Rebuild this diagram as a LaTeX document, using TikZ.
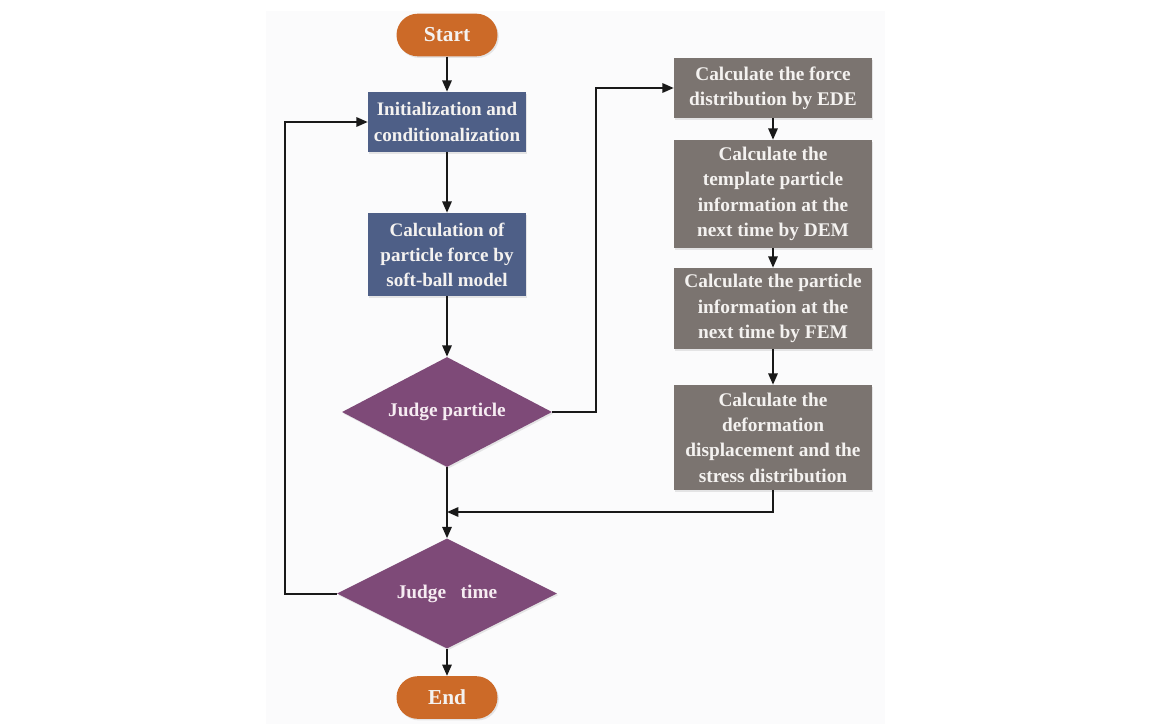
\documentclass[tikz,border=0pt]{standalone}
\usepackage{fontspec}
\setmainfont{Liberation Serif}
\usetikzlibrary{arrows.meta,shapes.geometric,shadows}
\definecolor{bgc}{HTML}{FBFBFC}
\definecolor{bluebox}{HTML}{4E5F87}
\definecolor{graybox}{HTML}{7B7470}
\definecolor{purp}{HTML}{7E4A78}
\definecolor{orng}{HTML}{CC6A28}
\definecolor{ptext}{HTML}{F6ECF2}
\definecolor{ltext}{HTML}{F4F2F0}
\tikzset{
  shade/.style={drop shadow={opacity=0.18,shadow xshift=1pt,shadow yshift=-1.2pt}},
  term/.style={shape=rectangle,rounded corners=16pt,fill=orng,text=ltext,minimum width=75.75pt,minimum height=32pt,inner sep=0pt,font=\fontsize{16}{19}\selectfont\bfseries,shade},
  bbox/.style={shape=rectangle,fill=bluebox,text=ltext,minimum width=118.5pt,inner sep=2pt,align=center,font=\fontsize{14.3}{18.8}\selectfont\bfseries,shade},
  gbox/.style={shape=rectangle,fill=graybox,text=ltext,minimum width=148.5pt,inner sep=2pt,align=center,font=\fontsize{14.5}{19}\selectfont\bfseries,shade},
  dia/.style={shape=diamond,shape aspect=1.95,fill=purp,text=ptext,inner sep=0pt,minimum height=82.5pt,font=\fontsize{14.5}{18}\selectfont\bfseries,shade},
  arr/.style={draw=black!90,line width=1.5pt,-{Triangle[length=8.5pt,width=7pt]}},
  ln/.style={draw=black!90,line width=1.5pt}
}
\begin{document}
\begin{tikzpicture}[x=0.75pt,y=-0.75pt]
\useasboundingbox (0,0) rectangle (1166,724);
\fill[bgc] (266,11) rectangle (885,724);
% left column
\node[term] (start) at (447,35) {Start};
\node[bbox,minimum height=45pt] (init) at (447,122) {Initialization and\\conditionalization};
\node[bbox,minimum height=62.25pt] (calc) at (447,254.5) {Calculation of\\particle force by\\soft-ball model};
\node[dia,minimum width=157.5pt] (jp) at (447,412) {Judge particle};
\node[dia,minimum width=165pt] (jt) at (447,593.5) {Judge~~~time};
\node[term] (end) at (447,697.5) {End};
% right column
\node[gbox,minimum height=45pt] (b1) at (773,88) {Calculate the force\\distribution by EDE};
\node[gbox,minimum height=81pt] (b2) at (773,194) {Calculate the\\template particle\\information at the\\next time by DEM};
\node[gbox,minimum height=60.75pt] (b3) at (773,308.5) {Calculate the particle\\information at the\\next time by FEM};
\node[gbox,minimum height=78.75pt] (b4) at (773,437.5) {Calculate the\\deformation\\displacement and the\\stress distribution};
% helper coordinates
\coordinate (cr) at (596,0);
\coordinate (cl) at (285,0);
\coordinate (mj) at (447,512);
% connectors
\draw[arr] (start) -- (init);
\draw[arr] (init) -- (calc);
\draw[arr] (calc) -- (jp);
\draw[arr] (jp.east) -- (jp.east -| cr) |- (b1.west);
\draw[arr] (b1) -- (b2);
\draw[arr] (b2) -- (b3);
\draw[arr] (b3) -- (b4);
\draw[arr] (b4.south) |- (mj);
\draw[arr] (jp.south) -- (jt.north);
\draw[arr] (jt.west) -- (jt.west -| cl) |- (init.west);
\draw[arr] (jt.south) -- (end.north);
\end{tikzpicture}
\end{document}
